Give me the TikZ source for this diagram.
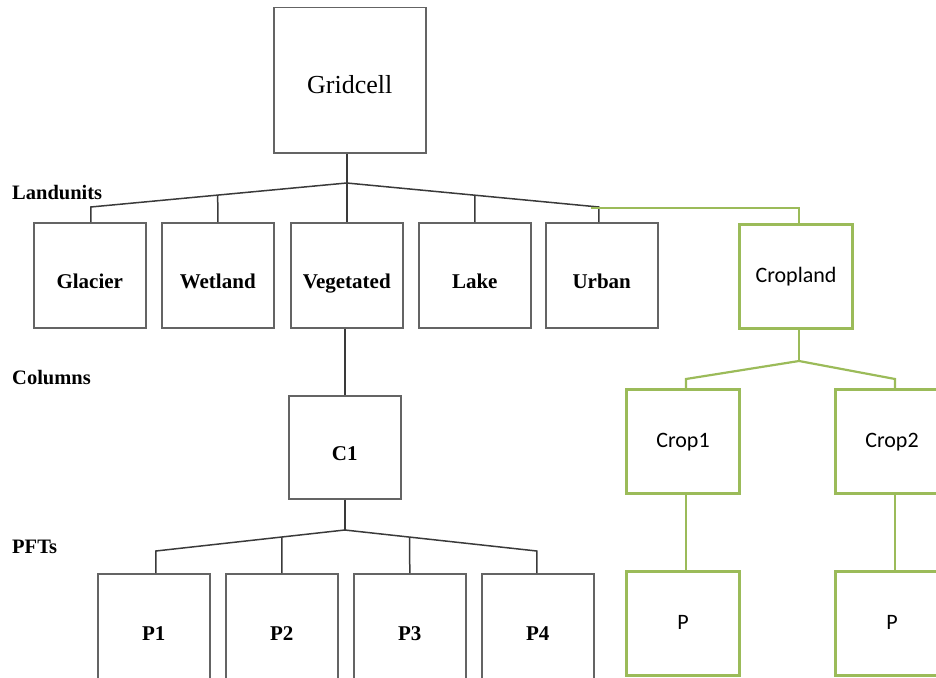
\documentclass[tikz,border=0pt]{standalone}
\usepackage{fontspec}
\setmainfont{Liberation Serif}
\newfontfamily\calfont{Carlito}
\definecolor{ogreen}{HTML}{9BBB59}
\definecolor{lgray}{HTML}{646464}
\definecolor{dgray}{HTML}{3A3A3A}
\begin{document}
\begin{tikzpicture}[x=1pt,y=-1pt,
  bbox/.style={draw=lgray,line width=1.5pt,inner sep=0pt,anchor=north west,
    minimum width=112pt,minimum height=105pt},
  gbox/.style={draw=ogreen,line width=3pt,inner sep=0pt,anchor=north west,
    minimum width=113pt,minimum height=104pt,font=\calfont\fontsize{22}{24}\selectfont,
    text height=15pt,text depth=4pt},
  conn/.style={draw=dgray,line width=1.5pt},
  gconn/.style={draw=ogreen,line width=2.2pt},
  lvl/.style={anchor=west,font=\bfseries\fontsize{20.5}{22}\selectfont,inner sep=0pt},
  btxt/.style={font=\bfseries\fontsize{21}{23}\selectfont,text height=14pt,text depth=5pt}
]
\useasboundingbox (0,0) rectangle (936,677);
\clip (0,0) rectangle (936,677);

% level labels
\node[lvl] (lland) at (12,193) {Landunits};
\node[lvl] (lcol) at (12,378) {Columns};
\node[lvl] (lpft) at (12,547) {PFTs};

% gridcell
\node[bbox,minimum width=152pt,minimum height=145pt,
  label={[font=\fontsize{26}{28}\selectfont,text height=17pt,text depth=6pt,yshift=-8pt]center:Gridcell}] (grid) at (273,7) {};

% landunits
\node[bbox,label={[btxt,yshift=-9pt]center:Glacier}] (glacier) at (33,222) {};
\node[bbox,label={[btxt,yshift=-9pt]center:Wetland}] (wetland) at (161,222) {};
\node[bbox,label={[btxt,yshift=-9pt]center:Vegetated}] (veg) at (290,222) {};
\node[bbox,label={[btxt,yshift=-9pt]center:Lake}] (lake) at (418,222) {};
\node[bbox,label={[btxt,yshift=-9pt]center:Urban}] (urban) at (545,222) {};
\node[gbox] (cropland) at (738,223) {Cropland};

% columns
\node[bbox,minimum height=103pt,label={[btxt,yshift=-9pt]center:C1}] (c1) at (288,395) {};
\node[gbox] (crop1) at (625,388) {Crop1};
\node[gbox] (crop2) at (834,388) {Crop2};

% pfts
\node[bbox,minimum height=107pt,label={[btxt,yshift=-9pt]center:P1}] (p1) at (97,573) {};
\node[bbox,minimum height=107pt,label={[btxt,yshift=-9pt]center:P2}] (p2) at (225,573) {};
\node[bbox,minimum height=107pt,label={[btxt,yshift=-9pt]center:P3}] (p3) at (353,573) {};
\node[bbox,minimum height=107pt,label={[btxt,yshift=-9pt]center:P4}] (p4) at (481,573) {};
\node[gbox] (pa) at (625,570) {P};
\node[gbox] (pb) at (834,570) {P};

% gridcell -> landunits
\coordinate (apex) at (veg.north |- 0,183);
\coordinate (lgl) at ([xshift=1pt]glacier.north |- 0,207);
\coordinate (lur) at ([xshift=-3pt]urban.north |- 0,207);
\coordinate (lwe) at (intersection of lgl--apex and wetland.north--wetland.center);
\coordinate (lla) at (intersection of apex--lur and lake.north--lake.center);
\draw[conn] (veg.north |- grid.south) -- (apex);
\draw[conn] ([xshift=1pt]glacier.north) -- (lgl) -- (apex) -- (lur) -- ([xshift=-3pt]urban.north);
\draw[conn] (wetland.north) -- (lwe);
\draw[conn] (lake.north) -- (lla);
\draw[conn] (veg.north) -- (apex);
\draw[gconn] ([xshift=-8pt,yshift=-0.7pt]lur) -- ([xshift=3pt,yshift=-0.7pt]cropland.north |- lur) -- ([xshift=3pt]cropland.north);

% vegetated -> C1
\draw[conn] (c1.north |- veg.south) -- (c1.north);

% C1 -> PFTs
\coordinate (capex) at (c1.south |- 0,530);
\coordinate (cp1) at ([xshift=2pt]p1.north |- 0,551);
\coordinate (cp4) at ([xshift=-1pt]p4.north |- 0,551);
\coordinate (cp2) at (intersection of cp1--capex and p2.north--p2.center);
\coordinate (cp3) at (intersection of capex--cp4 and p3.north--p3.center);
\draw[conn] (c1.south) -- (capex);
\draw[conn] ([xshift=2pt]p1.north) -- (cp1) -- (capex) -- (cp4) -- ([xshift=-1pt]p4.north);
\draw[conn] (p2.north) -- (cp2);
\draw[conn] (p3.north) -- (cp3);

% cropland -> crops
\coordinate (gapex) at ([xshift=3pt]cropland.south |- 0,361);
\coordinate (gc1) at ([xshift=3pt]crop1.north |- 0,379);
\coordinate (gc2) at ([xshift=3pt]crop2.north |- 0,379);
\draw[gconn] ([xshift=3pt]cropland.south) -- (gapex);
\draw[gconn] ([xshift=3pt]crop1.north) -- (gc1) -- (gapex) -- (gc2) -- ([xshift=3pt]crop2.north);
\draw[gconn] ([xshift=3pt]crop1.south) -- ([xshift=3pt]pa.north);
\draw[gconn] ([xshift=3pt]crop2.south) -- ([xshift=3pt]pb.north);
\end{tikzpicture}
\end{document}
